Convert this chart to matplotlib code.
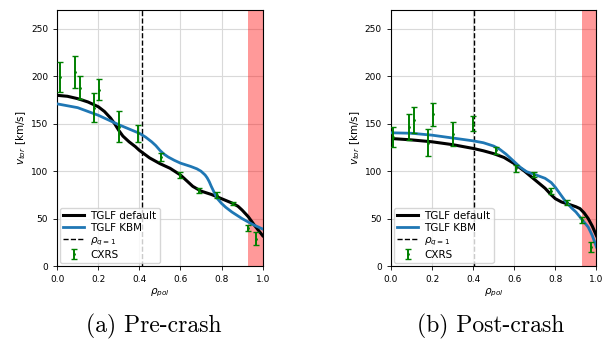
import matplotlib
matplotlib.use("Agg")
import matplotlib.pyplot as plt

# CXRS measurements (rho, v_tor, err)
pre_rho = [0.013, 0.088, 0.11, 0.18, 0.205, 0.30, 0.395, 0.506, 0.60, 0.69, 0.778, 0.856, 0.927, 0.969]
pre_v = [199, 205, 188, 167, 186, 147, 140, 115, 96, 79.5, 75, 66, 40, 29]
pre_err = [16, 17, 12, 15, 11, 16, 9, 4, 3, 3, 3, 2, 3, 7]

post_rho = [0.011, 0.086, 0.112, 0.182, 0.207, 0.302, 0.398, 0.509, 0.607, 0.696, 0.78, 0.858, 0.928, 0.974]
post_v = [136, 146.5, 154, 130, 160, 139, 150, 122, 103, 96.5, 79, 67, 48.5, 20]
post_err = [10.5, 13.5, 14, 14, 12, 12.5, 8, 4, 4, 3, 3, 3, 3, 5]

# TGLF profiles
pre_def_rho = [0.0, 0.05, 0.1, 0.15, 0.2, 0.23, 0.26, 0.28, 0.3, 0.32, 0.35, 0.38, 0.4, 0.45,
               0.5, 0.55, 0.6, 0.63, 0.66, 0.7, 0.75, 0.8, 0.85, 0.88, 0.9, 0.93, 0.96, 1.0]
pre_def_v = [180, 179, 176.5, 173, 168, 163, 156, 150, 143, 137, 131, 126, 122, 114,
             108, 103, 96, 90, 84, 79, 75.5, 71, 66.5, 63, 59, 52, 43, 32]
pre_kbm_rho = [0.0, 0.1, 0.2, 0.3, 0.4, 0.43, 0.46, 0.48, 0.5, 0.52, 0.54, 0.57, 0.6, 0.65,
               0.68, 0.7, 0.72, 0.73, 0.74, 0.75, 0.76, 0.77, 0.78, 0.8, 0.82, 0.85, 0.9, 0.95, 1.0]
pre_kbm_v = [171, 167, 159, 149, 140, 136, 131, 127, 122, 118, 115, 111.5, 108.5, 105,
             102.5, 100, 96, 93, 89, 84, 79.5, 75, 71, 66, 62, 57, 50, 44, 39]

post_def_rho = [0.0, 0.1, 0.2, 0.3, 0.4, 0.45, 0.5, 0.55, 0.6, 0.65, 0.7, 0.75, 0.78, 0.8,
                0.83, 0.86, 0.9, 0.92, 0.94, 0.96, 0.98, 1.0]
post_def_v = [134.5, 133, 131, 128, 124, 121.5, 118.5, 114.5, 108, 100, 91, 82, 75, 71,
              67.5, 65.5, 62.5, 60.5, 56, 50, 42, 32]
post_kbm_rho = [0.0, 0.1, 0.2, 0.3, 0.4, 0.45, 0.5, 0.53, 0.56, 0.6, 0.63, 0.66, 0.7, 0.75,
                0.78, 0.8, 0.82, 0.85, 0.88, 0.9, 0.93, 0.96, 0.98, 1.0]
post_kbm_v = [140.5, 140, 138, 135, 132, 130, 126.5, 123, 118, 110, 104, 99.5, 96.5, 92.5,
              88, 83, 77, 68, 61, 57, 49, 41, 32, 20]

captions = ["(a) Pre-crash", "(b) Post-crash"]
q1_pos = [0.413, 0.402]

fs = 6.5
fig = plt.figure(figsize=(6.08, 3.4), dpi=100)
lefts = [0.094, 0.643]
cap_x = [154 / 608, 491 / 608]
data = [(pre_rho, pre_v, pre_err, pre_def_rho, pre_def_v, pre_kbm_rho, pre_kbm_v),
        (post_rho, post_v, post_err, post_def_rho, post_def_v, post_kbm_rho, post_kbm_v)]
for i, (rho, v, err, dr, dv, kr, kv) in enumerate(data):
    ax = fig.add_axes([lefts[i], 0.2176, 0.338, 0.753])
    ax.axvspan(0.93, 1.0, color="red", alpha=0.4, lw=0)
    ax.plot(dr, dv, color="black", lw=2.2, label="TGLF default", zorder=3)
    ax.plot(kr, kv, color="#1f77b4", lw=2.0, label="TGLF KBM", zorder=3)
    ax.axvline(q1_pos[i], color="black", ls="--", lw=1.0, label=r"$\rho_{q=1}$")
    ax.errorbar(rho, v, yerr=err, fmt=".", color="green", ms=2, elinewidth=1.4,
                capsize=2, capthick=1, label="CXRS", zorder=4)
    ax.set_xlim(0, 1)
    ax.set_ylim(0, 270)
    ax.set_yticks([0, 50, 100, 150, 200, 250])
    ax.grid(True, color="#d9d9d9", lw=0.8)
    ax.set_axisbelow(True)
    ax.tick_params(labelsize=fs, length=3, width=0.6)
    ax.set_xlabel(r"$\rho_{pol}$", fontsize=7.5, labelpad=2)
    ax.set_ylabel(r"$v_{tor}$ [km/s]", fontsize=7.5, labelpad=2)
    ax.legend(loc="lower left", fontsize=7.5, framealpha=0.8, handlelength=2.0,
              labelspacing=0.2, borderpad=0.3, borderaxespad=0.3, handletextpad=0.6)
    fig.text(cap_x[i], 0.041, captions[i], ha="center", va="center",
             fontsize=17, family="cmr10")

fig.savefig("out.png", dpi=100)
